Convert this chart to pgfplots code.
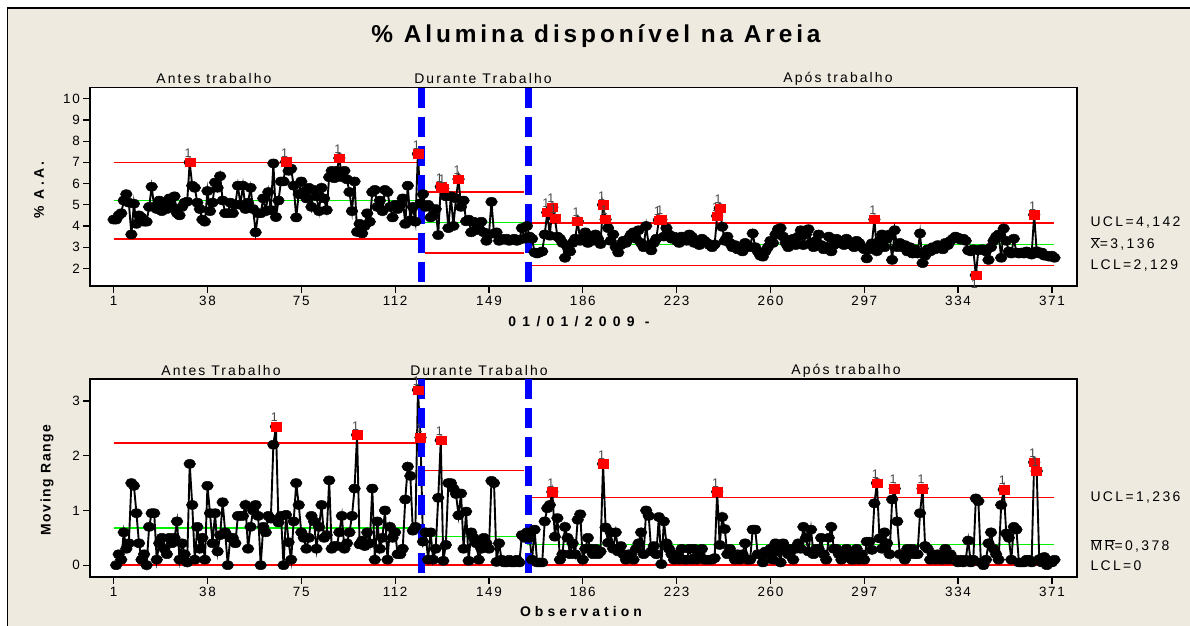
\documentclass[border=0pt]{standalone}
\usepackage{fontspec}
\setmainfont{Liberation Sans}
\usepackage{pgfplots}
\usepackage{pgfplotstable}
\pgfplotsset{compat=1.18}

\definecolor{panel}{RGB}{238,234,224}
\definecolor{mtred}{RGB}{255,0,0}
\definecolor{mtgreen}{RGB}{0,240,0}
\definecolor{mtblue}{RGB}{0,0,255}
\definecolor{flag}{RGB}{70,70,70}

\newcommand{\fs}[2]{\fontsize{#1}{#1}\selectfont\addfontfeature{LetterSpace=#2}}

% obs, individual value (% A.A.), moving range
\pgfplotstableread[row sep=\\]{
obs x mr\\
1 4.3 nan\\ 2 4.3 0.0\\ 3 4.5 0.2\\ 4 4.6 0.1\\ 5 5.2 0.6\\ 6 5.5 0.3\\
7 5.1 0.4\\ 8 3.6 1.5\\ 9 5.05 1.45\\ 10 4.1 0.95\\ 11 4.5 0.4\\ 12 4.4 0.1\\
13 4.2 0.2\\ 14 4.2 0.0\\ 15 4.9 0.7\\ 16 5.85 0.95\\ 17 4.9 0.95\\ 18 4.8 0.1\\
19 5.2 0.4\\ 20 4.7 0.5\\ 21 5.0 0.3\\ 22 4.8 0.2\\ 23 5.3 0.5\\ 24 4.9 0.4\\
25 5.4 0.5\\ 26 4.6 0.8\\ 27 4.5 0.1\\ 28 4.9 0.4\\ 29 5.1 0.2\\ 30 5.15 0.05\\
31 7.0 1.85\\ 32 5.9 1.1\\ 33 5.8 0.1\\ 34 5.1 0.7\\ 35 4.8 0.3\\ 36 4.3 0.5\\
37 4.2 0.1\\ 38 5.65 1.45\\ 39 4.7 0.95\\ 40 5.1 0.4\\ 41 6.05 0.95\\ 42 5.8 0.25\\
43 6.35 0.55\\ 44 5.2 1.15\\ 45 4.6 0.6\\ 46 4.6 0.0\\ 47 5.1 0.5\\ 48 4.6 0.5\\
49 5.0 0.4\\ 50 5.9 0.9\\ 51 5.0 0.9\\ 52 5.9 0.9\\ 53 4.8 1.1\\ 54 5.1 0.3\\
55 5.8 0.7\\ 56 4.8 1.0\\ 57 3.7 1.1\\ 58 4.6 0.9\\ 59 4.6 0.0\\ 60 5.3 0.7\\
61 4.7 0.6\\ 62 5.6 0.9\\ 63 4.75 0.85\\ 64 6.95 2.2\\ 65 4.42 2.53\\ 66 5.2 0.78\\
67 6.1 0.9\\ 68 6.1 0.0\\ 69 7.02 0.92\\ 70 6.6 0.42\\ 71 6.7 0.1\\ 72 5.9 0.8\\
73 4.4 1.5\\ 74 5.5 1.1\\ 75 6.1 0.6\\ 76 5.6 0.5\\ 77 5.3 0.3\\ 78 5.8 0.5\\
79 4.9 0.9\\ 80 5.7 0.8\\ 81 5.4 0.3\\ 82 4.7 0.7\\ 83 5.8 1.1\\ 84 5.3 0.5\\
85 4.75 0.55\\ 86 6.3 1.55\\ 87 6.6 0.3\\ 88 6.25 0.35\\ 89 6.6 0.35\\ 90 7.2 0.6\\
91 6.3 0.9\\ 92 6.6 0.3\\ 93 6.2 0.4\\ 94 5.6 0.6\\ 95 4.7 0.9\\ 96 6.1 1.4\\
97 3.72 2.38\\ 98 4.1 0.38\\ 99 3.65 0.45\\ 100 4.0 0.35\\ 101 4.6 0.6\\ 102 4.2 0.4\\
103 5.6 1.4\\ 104 5.7 0.1\\ 105 4.9 0.8\\ 106 5.2 0.3\\ 107 4.7 0.5\\ 108 5.7 1.0\\
109 5.6 0.1\\ 110 4.9 0.7\\ 111 4.4 0.5\\ 112 5.0 0.6\\ 113 4.8 0.2\\ 114 5.0 0.2\\
115 5.3 0.3\\ 116 4.1 1.2\\ 117 5.9 1.8\\ 118 4.27 1.63\\ 119 4.9 0.63\\ 120 4.2 0.7\\
121 7.4 3.2\\ 122 5.07 2.33\\ 123 5.5 0.43\\ 124 4.9 0.6\\ 125 5.0 0.1\\ 126 4.4 0.6\\
127 4.5 0.1\\ 128 4.8 0.3\\ 129 3.57 1.23\\ 130 5.85 2.28\\ 131 5.77 0.08\\ 132 5.4 0.37\\
133 3.9 1.5\\ 134 5.4 1.5\\ 135 4.0 1.4\\ 136 5.3 1.3\\ 137 6.21 0.91\\ 138 4.9 1.31\\
139 5.2 0.3\\ 140 4.22 0.98\\ 141 4.3 0.08\\ 142 3.7 0.6\\ 143 4.2 0.5\\ 144 3.8 0.4\\
145 3.9 0.1\\ 146 4.2 0.3\\ 147 3.7 0.5\\ 148 3.3 0.4\\ 149 3.6 0.3\\ 150 5.14 1.54\\
151 3.64 1.5\\ 152 3.7 0.06\\ 153 3.3 0.4\\ 154 3.4 0.1\\ 155 3.35 0.05\\ 156 3.4 0.05\\
157 3.3 0.1\\ 158 3.35 0.05\\ 159 3.4 0.05\\ 160 3.3 0.1\\ 161 3.35 0.05\\ 162 3.9 0.55\\
163 3.4 0.5\\ 164 4.0 0.6\\ 165 3.5 0.5\\ 166 3.4 0.1\\ 167 2.75 0.65\\ 168 2.7 0.05\\
169 2.75 0.05\\ 170 2.8 0.05\\ 171 3.6 0.8\\ 172 4.64 1.04\\ 173 3.54 1.1\\ 174 4.88 1.34\\
175 4.36 0.52\\ 176 3.5 0.86\\ 177 3.4 0.1\\ 178 3.2 0.2\\ 179 2.5 0.7\\ 180 3.0 0.5\\
181 2.8 0.2\\ 182 3.2 0.4\\ 183 3.4 0.2\\ 184 4.23 0.83\\ 185 3.3 0.93\\ 186 3.4 0.1\\
187 3.7 0.3\\ 188 3.2 0.5\\ 189 3.5 0.3\\ 190 3.3 0.2\\ 191 3.6 0.3\\ 192 3.4 0.2\\
193 3.15 0.25\\ 194 5.0 1.85\\ 195 4.31 0.69\\ 196 3.9 0.41\\ 197 3.3 0.6\\ 198 3.6 0.3\\
199 3.0 0.6\\ 200 2.75 0.25\\ 201 3.1 0.35\\ 202 3.3 0.2\\ 203 3.2 0.1\\ 204 3.4 0.2\\
205 3.6 0.2\\ 206 3.7 0.1\\ 207 3.4 0.3\\ 208 3.8 0.4\\ 209 3.2 0.6\\ 210 3.0 0.2\\
211 4.0 1.0\\ 212 3.1 0.9\\ 213 2.85 0.25\\ 214 3.2 0.35\\ 215 3.4 0.2\\ 216 4.28 0.88\\
217 4.3 0.02\\ 218 3.5 0.8\\ 219 3.9 0.4\\ 220 3.6 0.3\\ 221 3.4 0.2\\ 222 3.5 0.1\\
223 3.3 0.2\\ 224 3.2 0.1\\ 225 3.5 0.3\\ 226 3.4 0.1\\ 227 3.3 0.1\\ 228 3.6 0.3\\
229 3.5 0.1\\ 230 3.2 0.3\\ 231 3.3 0.1\\ 232 3.1 0.2\\ 233 3.4 0.3\\ 234 3.3 0.1\\
235 3.2 0.1\\ 236 3.1 0.1\\ 237 3.0 0.1\\ 238 3.13 0.13\\ 239 4.47 1.34\\ 240 4.84 0.37\\
241 3.96 0.88\\ 242 3.3 0.66\\ 243 3.5 0.2\\ 244 3.2 0.3\\ 245 3.0 0.2\\ 246 3.1 0.1\\
247 2.9 0.2\\ 248 3.0 0.1\\ 249 2.8 0.2\\ 250 3.2 0.4\\ 251 3.1 0.1\\ 252 3.0 0.1\\
253 3.65 0.65\\ 254 3.0 0.65\\ 255 2.8 0.2\\ 256 2.6 0.2\\ 257 2.55 0.05\\ 258 2.8 0.25\\
259 3.0 0.2\\ 260 3.3 0.3\\ 261 3.2 0.1\\ 262 3.6 0.4\\ 263 3.85 0.25\\ 264 3.9 0.05\\
265 3.5 0.4\\ 266 3.2 0.3\\ 267 3.0 0.2\\ 268 3.3 0.3\\ 269 3.4 0.1\\ 270 3.1 0.3\\
271 3.5 0.4\\ 272 3.8 0.3\\ 273 3.1 0.7\\ 274 3.6 0.5\\ 275 3.85 0.25\\ 276 3.2 0.65\\
277 3.0 0.2\\ 278 3.3 0.3\\ 279 3.6 0.3\\ 280 3.1 0.5\\ 281 2.9 0.2\\ 282 3.0 0.1\\
283 3.5 0.5\\ 284 2.8 0.7\\ 285 3.1 0.3\\ 286 3.4 0.3\\ 287 3.2 0.2\\ 288 3.3 0.1\\
289 3.1 0.2\\ 290 3.4 0.3\\ 291 3.2 0.2\\ 292 3.1 0.1\\ 293 3.0 0.1\\ 294 3.3 0.3\\
295 3.2 0.1\\ 296 3.0 0.2\\ 297 2.9 0.1\\ 298 2.47 0.43\\ 299 2.9 0.43\\ 300 3.18 0.28\\
301 4.31 1.13\\ 302 2.81 1.5\\ 303 3.3 0.49\\ 304 3.6 0.3\\ 305 3.0 0.6\\ 306 3.4 0.4\\
307 3.6 0.2\\ 308 2.4 1.2\\ 309 3.8 1.4\\ 310 3.0 0.8\\ 311 3.2 0.2\\ 312 3.0 0.2\\
313 3.1 0.1\\ 314 2.8 0.3\\ 315 3.0 0.2\\ 316 2.7 0.3\\ 317 2.9 0.2\\ 318 2.7 0.2\\
319 3.65 0.95\\ 320 2.25 1.4\\ 321 2.6 0.35\\ 322 2.9 0.3\\ 323 2.8 0.1\\ 324 3.0 0.2\\
325 2.9 0.1\\ 326 3.1 0.2\\ 327 3.0 0.1\\ 328 2.9 0.1\\ 329 3.2 0.3\\ 330 3.1 0.1\\
331 3.3 0.2\\ 332 3.4 0.1\\ 333 3.5 0.1\\ 334 3.45 0.05\\ 335 3.35 0.1\\ 336 3.4 0.05\\
337 3.3 0.1\\ 338 2.85 0.45\\ 339 2.8 0.05\\ 340 2.9 0.1\\ 341 1.68 1.22\\ 342 2.85 1.17\\
343 2.9 0.05\\ 344 2.9 0.0\\ 345 2.8 0.1\\ 346 2.4 0.4\\ 347 3.0 0.6\\ 348 3.3 0.3\\
349 3.5 0.2\\ 350 3.6 0.1\\ 351 2.5 1.1\\ 352 3.88 1.38\\ 353 3.3 0.58\\ 354 2.8 0.5\\
355 2.7 0.1\\ 356 3.4 0.7\\ 357 2.75 0.65\\ 358 2.7 0.05\\ 359 2.75 0.05\\ 360 2.7 0.05\\
361 2.8 0.1\\ 362 2.7 0.1\\ 363 2.65 0.05\\ 364 4.53 1.88\\ 365 2.81 1.72\\ 366 2.7 0.11\\
367 2.75 0.05\\ 368 2.6 0.15\\ 369 2.6 0.0\\ 370 2.55 0.05\\ 371 2.6 0.05\\ 372 2.5 0.1\\
}\aadata

% points flagged by test 1
\pgfplotstableread[row sep=\\]{
obs val\\
31 7.0\\ 69 7.02\\ 90 7.2\\ 121 7.4\\ 130 5.85\\ 131 5.77\\ 137 6.21\\
172 4.64\\ 174 4.88\\ 175 4.36\\ 184 4.23\\ 194 5.0\\ 195 4.31\\ 216 4.28\\
217 4.3\\ 239 4.47\\ 240 4.84\\ 301 4.31\\ 364 4.53\\
}\xhigh
\pgfplotstableread[row sep=\\]{
obs val\\
341 1.68\\
}\xlow
\pgfplotstableread[row sep=\\]{
obs val\\
65 2.53\\ 97 2.38\\ 121 3.2\\ 122 2.33\\ 130 2.28\\ 174 1.34\\ 194 1.85\\
239 1.34\\ 302 1.5\\ 309 1.4\\ 320 1.4\\ 352 1.38\\ 364 1.88\\ 365 1.72\\
}\mrhigh

\pgfplotsset{
  mt/.style={
    scale only axis, width=986.7bp, anchor=south west,
    xmin=-8.2, xmax=380.9, xtick={1,38,...,371},
    tick pos=left, tick align=outside,
    major tick length=7bp,
    axis line style={line width=1.6bp},
    every tick/.style={black, line width=1.2bp},
    tick label style={font=\fs{13.5}{12}},
    /pgf/number format/assume math mode=true,
    axis background/.style={fill=white},
    clip=false,
  },
  datline/.style={black, line width=1.9bp, mark=*, mark size=4.5bp,
    mark options={xscale=1.3, fill=black, line width=0.5bp}},
  redsq/.style={only marks, mark=square*, mark size=5bp,
    mark options={fill=mtred, draw=mtred, yscale=0.85},
    nodes near coords={1},
    every node near coord/.style={font=\fs{12.5}{0}, text=flag, anchor=south,
      inner sep=0pt, yshift=4.5bp, xshift=-1.5bp}},
  redsqlow/.style={only marks, mark=square*, mark size=5bp,
    mark options={fill=mtred, draw=mtred, yscale=0.85},
    nodes near coords={1},
    every node near coord/.style={font=\fs{12.5}{0}, text=flag, anchor=north,
      inner sep=0pt, yshift=-4.5bp, xshift=-1.5bp}},
  ucl/.style={mtred, line width=1.4bp, no marks},
  cl/.style={mtgreen, line width=1.4bp, no marks},
  stagebar/.style={mtblue, line width=7bp, dash pattern=on 20bp off 9bp, no marks},
}

\begin{document}
\begin{tikzpicture}
\fill[white] (0bp,0bp) rectangle (1190bp,626bp);
\fill[panel] (7.5bp,0bp) rectangle (1190bp,617.7bp);
\draw[line width=1.6bp] (7.5bp,0bp) -- (7.5bp,617.7bp) -- (1190bp,617.7bp);

% ---- individuals chart
\begin{axis}[mt, at={(90.3bp,340bp)}, height=198.3bp,
    ymin=1.17, ymax=10.52, ytick={2,...,10}]
  \addplot[ucl] coordinates {(1,6.99)(123,6.99)};
  \addplot[ucl] coordinates {(1,3.39)(123,3.39)};
  \addplot[cl]  coordinates {(1,5.21)(123,5.21)};
  \addplot[ucl] coordinates {(123.6,5.60)(163,5.60)};
  \addplot[ucl] coordinates {(123.6,2.72)(163,2.72)};
  \addplot[cl]  coordinates {(123.6,4.15)(163,4.15)};
  \addplot[ucl] coordinates {(164.2,4.142)(372,4.142)};
  \addplot[ucl] coordinates {(164.2,2.129)(372,2.129)};
  \addplot[cl]  coordinates {(164.2,3.136)(372,3.136)};
  \addplot[datline] table[x=obs, y=x] {\aadata};
  \addplot[stagebar] coordinates {(122.5,10.52)(122.5,1.17)};
  \addplot[stagebar] coordinates {(164.5,10.52)(164.5,1.17)};
  \addplot[redsq] table[x=obs, y=val] {\xhigh};
  \addplot[redsqlow] table[x=obs, y=val] {\xlow};
\end{axis}

% ---- moving range chart
\begin{axis}[mt, at={(90.3bp,49.3bp)}, height=197.7bp,
    ymin=-0.21, ymax=3.40, ytick={0,1,2,3}]
  \addplot[ucl] coordinates {(1,2.23)(123,2.23)};
  \addplot[ucl] coordinates {(1,0)(123,0)};
  \addplot[cl]  coordinates {(1,0.68)(123,0.68)};
  \addplot[ucl] coordinates {(123.6,1.73)(163,1.73)};
  \addplot[ucl] coordinates {(123.6,0)(163,0)};
  \addplot[cl]  coordinates {(123.6,0.52)(163,0.52)};
  \addplot[ucl] coordinates {(164.2,1.236)(372,1.236)};
  \addplot[ucl] coordinates {(164.2,0)(372,0)};
  \addplot[cl]  coordinates {(164.2,0.378)(372,0.378)};
  \addplot[datline] table[x=obs, y=mr] {\aadata};
  \addplot[stagebar] coordinates {(122.5,3.40)(122.5,-0.21)};
  \addplot[stagebar] coordinates {(164.5,3.40)(164.5,-0.21)};
  \addplot[redsq] table[x=obs, y=val] {\mrhigh};
\end{axis}

% ---- titles and labels
\node[font=\bfseries\fs{24.5}{16}] at (596bp,590bp) {\% Alumina disponível na Areia};
\node[font=\fs{14}{15}] at (214bp,547bp) {Antes trabalho};
\node[font=\fs{14}{15}] at (483bp,547bp) {Durante Trabalho};
\node[font=\fs{14}{15}] at (838bp,547bp) {Após trabalho};
\node[font=\fs{14}{15}] at (221bp,255bp) {Antes Trabalho};
\node[font=\fs{14}{15}] at (479bp,255bp) {Durante Trabalho};
\node[font=\fs{14}{15}] at (846bp,255bp) {Após trabalho};
\node[font=\bfseries\fs{14}{45}] at (579bp,304bp) {01/01/2009 -};
\node[font=\bfseries\fs{14}{29}] at (581bp,14bp) {Observation};
\node[font=\bfseries\fs{14}{23}, rotate=90] at (39bp,436bp) {\% A.A.};
\node[font=\bfseries\fs{14}{11}, rotate=90] at (47bp,146bp) {Moving Range};
\node[font=\fs{14}{17}, anchor=west] at (1087bp,403.3bp) {UCL=4,142};
\node[font=\fs{14}{17}, anchor=west] at (1087bp,382bp) {$\overline{\mbox{X}}$=3,136};
\node[font=\fs{14}{17}, anchor=west] at (1087bp,360bp) {LCL=2,129};
\node[font=\fs{14}{17}, anchor=west] at (1087bp,128bp) {UCL=1,236};
\node[font=\fs{14}{17}, anchor=west] at (1087bp,80bp) {$\overline{\mbox{M}}\,\overline{\mbox{R}}$=0,378};
\node[font=\fs{14}{17}, anchor=west] at (1087bp,60bp) {LCL=0};
\pgfresetboundingbox
\useasboundingbox (0bp,0bp) rectangle (1190bp,626bp);
\end{tikzpicture}
\end{document}
